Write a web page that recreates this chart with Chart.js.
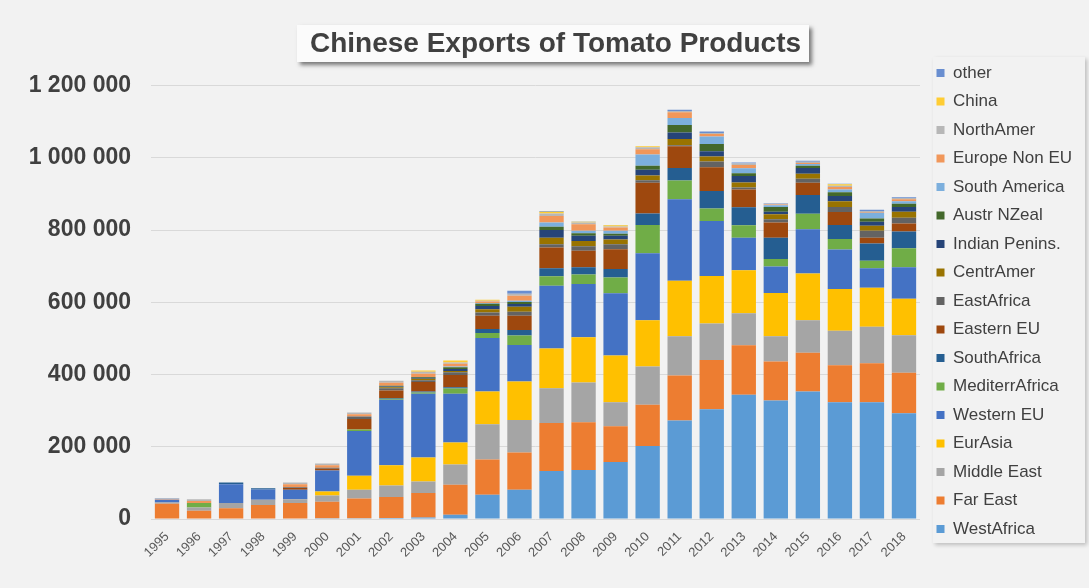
<!DOCTYPE html>
<html>
<head>
<meta charset="utf-8">
<script src="https://cdn.jsdelivr.net/npm/chart.js@4"></script>
<style>
  html, body { margin: 0; padding: 0; background: #f2f2f2; }
  canvas { display: block; }
</style>
</head>
<body>
<canvas id="grafico" width="1089" height="588"></canvas>
<script>
// tonnes per year
const anos = ['1995','1996','1997','1998','1999','2000','2001','2002','2003','2004','2005','2006',
              '2007','2008','2009','2010','2011','2012','2013','2014','2015','2016','2017','2018'];

const westAfrica    = [0,0,0,0,0,2000,2000,3000,4000,12000,67000,81000,133000,136000,158000,202000,273000,304000,344000,328000,353000,323000,323000,293000];
const farEast       = [42000,23000,30000,39000,44000,46000,55000,58000,68000,83000,98000,103000,133000,132000,99000,114000,124000,136000,137000,108000,107000,103000,108000,112000];
const middleEast    = [4000,9000,14000,14000,11000,17000,24000,32000,32000,56000,97000,90000,96000,110000,66000,106000,109000,101000,89000,70000,90000,95000,101000,104000];
const eurAsia       = [0,0,0,0,0,11000,39000,56000,66000,61000,91000,107000,110000,125000,130000,128000,154000,132000,119000,120000,130000,116000,108000,101000];
const westernEU     = [7000,0,52000,29000,26000,58000,124000,181000,177000,135000,148000,101000,174000,148000,172000,186000,225000,152000,90000,73000,122000,109000,54000,87000];
const mediterrAfr   = [0,12000,0,0,0,0,4000,3000,3000,14000,14000,26000,26000,26000,44000,78000,52000,35000,34000,21000,43000,29000,21000,53000];
const southAfrica   = [0,0,5000,3000,0,0,0,2000,3000,4000,11000,15000,22000,20000,23000,32000,35000,48000,50000,59000,52000,39000,48000,46000];
const easternEU     = [0,0,0,0,5000,5000,29000,21000,26000,34000,37000,40000,58000,46000,55000,85000,60000,66000,49000,42000,34000,36000,16000,22000];
const eastAfrica    = [0,0,0,0,2000,3000,7000,6000,5000,7000,9000,11000,9000,12000,14000,7000,3000,16000,6000,9000,11000,14000,19000,16000];
const centrAmer     = [0,0,0,0,0,0,0,3000,4000,4000,9000,14000,18000,15000,13000,13000,17000,14000,14000,14000,14000,16000,14000,17000];
const indianPenins  = [0,0,0,0,0,0,0,2000,3000,5000,9000,7000,21000,14000,10000,16000,18000,14000,18000,7000,16000,14000,11000,13000];
const austrNZeal    = [0,0,0,0,0,0,0,2000,2000,5000,6000,6000,9000,7000,6000,11000,21000,20000,7000,13000,6000,11000,9000,9000];
const southAmerica  = [0,0,0,0,0,0,0,0,0,2000,2000,3000,12000,7000,8000,31000,19000,21000,14000,5000,5000,7000,16000,7000];
const europeNonEU   = [2000,6000,0,0,8000,7000,6000,8000,9000,8000,4000,14000,18000,18000,9000,15000,16000,7000,9000,2000,3000,7000,2000,5000];
const northAmer     = [2000,5000,0,0,5000,5000,5000,6000,6000,3000,2000,6000,7000,5000,3000,5000,4000,3000,4000,2000,3000,4000,3000,4000];
const china         = [0,0,0,0,0,0,0,0,3000,6000,3000,0,5000,2000,3000,3000,0,0,0,0,0,4000,0,0];
const other         = [1000,0,0,0,0,0,0,0,0,0,0,8000,2000,1000,1000,0,3000,4000,3000,1000,3000,1000,3000,2000];

const series = [
  ['WestAfrica', westAfrica, '#5b9bd5'],
  ['Far East', farEast, '#ed7d31'],
  ['Middle East', middleEast, '#a5a5a5'],
  ['EurAsia', eurAsia, '#ffc000'],
  ['Western EU', westernEU, '#4472c4'],
  ['MediterrAfrica', mediterrAfr, '#70ad47'],
  ['SouthAfrica', southAfrica, '#255e91'],
  ['Eastern EU', easternEU, '#9e480e'],
  ['EastAfrica', eastAfrica, '#636363'],
  ['CentrAmer', centrAmer, '#997300'],
  ['Indian Penins.', indianPenins, '#264478'],
  ['Austr NZeal', austrNZeal, '#43682b'],
  ['South America', southAmerica, '#7cafdd'],
  ['Europe Non EU', europeNonEU, '#f1975a'],
  ['NorthAmer', northAmer, '#b7b7b7'],
  ['China', china, '#ffcd33'],
  ['other', other, '#698ed0']
];

function milhares(v) {
  return String(v).replace(/\B(?=(\d{3})+(?!\d))/g, ' ');
}

const fundo = {
  id: 'fundo',
  beforeInit(chart) {
    const fit = chart.legend.fit;
    chart.legend.fit = function () {
      fit.call(this);
      this.width = 169;
    };
  },
  afterLayout(chart) {
    chart.legend.left += 5;
    chart.legend.right += 5;
    chart.titleBlock.left += 20;
    chart.titleBlock.right += 20;
  },
  beforeDraw(chart) {
    const ctx = chart.ctx;
    ctx.save();
    ctx.fillStyle = '#f2f2f2';
    ctx.fillRect(0, 0, chart.width, chart.height);
    // caixa do titulo
    ctx.shadowColor = 'rgba(0,0,0,0.5)';
    ctx.shadowBlur = 4;
    ctx.shadowOffsetX = 3;
    ctx.shadowOffsetY = 3;
    ctx.fillStyle = '#fbfbfb';
    ctx.fillRect(297, 25, 512, 37);
    // caixa da legenda
    ctx.shadowColor = 'rgba(0,0,0,0.22)';
    ctx.shadowOffsetX = 2;
    ctx.shadowOffsetY = 2;
    ctx.fillStyle = '#f2f2f2';
    ctx.fillRect(933, 57, 152, 486);
    ctx.restore();
  }
};

const data = {
  labels: anos,
  datasets: series.map(s => ({
    label: s[0],
    data: s[1],
    backgroundColor: s[2],
    borderWidth: 0,
    barPercentage: 0.76,
    categoryPercentage: 1
  }))
};

const config = {
  type: 'bar',
  data: data,
  options: {
    responsive: false,
    animation: false,
    layout: { padding: { top: 14, left: 0, right: 0, bottom: 0 } },
    plugins: {
      title: {
        display: true,
        fullSize: false,
        text: 'Chinese Exports of Tomato Products',
        color: '#404040',
        font: { family: 'Liberation Sans', size: 28, weight: 'bold', lineHeight: 1.2 },
        padding: { top: 13, bottom: 25 }
      },
      legend: {
        position: 'right',
        reverse: true,
        labels: {
          boxWidth: 8,
          boxHeight: 8,
          padding: 11.5,
          color: '#404040',
          font: { family: 'Liberation Sans', size: 17 }
        }
      },
      tooltip: { enabled: false }
    },
    scales: {
      x: {
        stacked: true,
        grid: { display: false },
        border: { display: false },
        ticks: {
          autoSkip: false,
          minRotation: 45,
          maxRotation: 45,
          padding: 2,
          color: '#595959',
          font: { family: 'Liberation Sans', size: 13 }
        },
        afterFit(s) { s.height = 69; }
      },
      y: {
        stacked: true,
        min: 0,
        max: 1200000,
        grid: { color: '#d9d9d9', drawTicks: false },
        border: { display: false },
        ticks: {
          stepSize: 200000,
          padding: 20,
          color: '#404040',
          font: { family: 'Liberation Sans', size: 23, weight: 'bold' },
          callback: v => milhares(v)
        },
        afterFit(s) { s.width = 151; }
      }
    }
  },
  plugins: [fundo]
};

new Chart(document.getElementById('grafico'), config);
</script>
</body>
</html>
